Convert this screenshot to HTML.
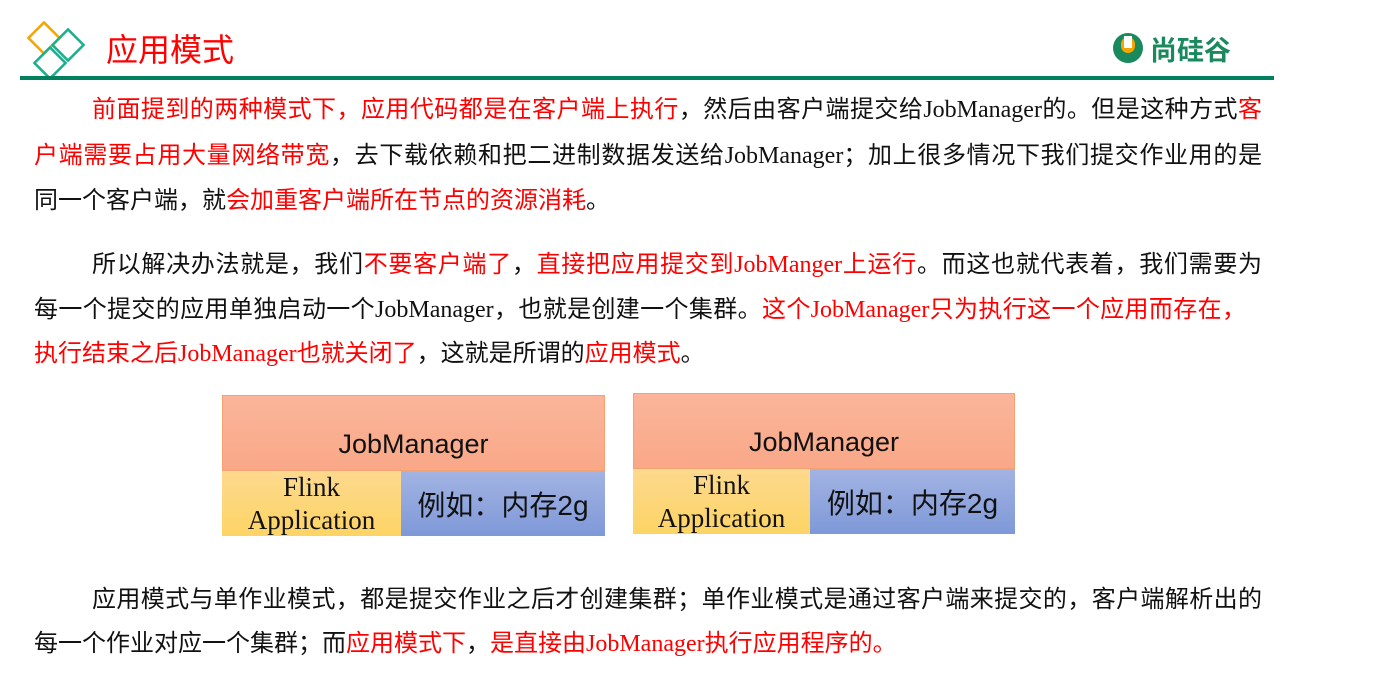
<!DOCTYPE html>
<html><head><meta charset="utf-8"><style>
body{margin:0;width:1394px;height:690px;background:#fff;position:relative;overflow:hidden;font-family:"Liberation Serif","Noto Sans CJK SC",sans-serif;}
.l{position:absolute;font-size:24px;line-height:30px;white-space:nowrap;color:#111;}
.j{text-align:justify;text-align-last:justify;}
.r{color:#f00;}
.box{position:absolute;}
.jm{position:absolute;left:0;top:0;right:0;background:linear-gradient(#fbb59a,#f9a888);border:1px solid #f7a070;box-sizing:border-box;font-family:"Liberation Sans","Noto Sans CJK SC",sans-serif;font-size:27px;display:flex;align-items:center;justify-content:center;padding-top:22px;color:#111;}
.fa{position:absolute;left:0;bottom:0;background:linear-gradient(#fdd98f,#fdd464);font-size:27px;line-height:33px;text-align:center;color:#111;display:flex;align-items:center;justify-content:center;}
.mem{position:absolute;right:0;bottom:0;background:linear-gradient(#a3b4e3,#7e98d8);font-family:"Liberation Sans","Noto Sans CJK SC",sans-serif;font-size:28px;display:flex;align-items:center;justify-content:center;color:#111;}
</style></head><body>
<svg width="100" height="80" style="position:absolute;left:20px;top:15px">
<rect x="13" y="12" width="22" height="22" transform="rotate(45 24 23)" fill="none" stroke="#f5a500" stroke-width="2.5"/>
<rect x="37" y="19" width="22" height="22" transform="rotate(45 48 30)" fill="none" stroke="#19b08e" stroke-width="2.5"/>
<rect x="19" y="37" width="22" height="22" transform="rotate(45 30 48)" fill="none" stroke="#19b08e" stroke-width="2.5"/>
</svg>
<div style="position:absolute;left:106px;top:28px;font-size:32px;color:#f00;font-family:'Noto Sans CJK SC',sans-serif;line-height:40px">应用模式</div>
<div style="position:absolute;left:20px;top:76px;width:1254px;height:4px;background:#00805e"></div>
<svg width="40" height="40" style="position:absolute;left:1112px;top:30px"><circle cx="16" cy="18" r="15" fill="#1a8a5e"/><rect x="9" y="7" width="14" height="16" rx="7" fill="#f5a500"/><rect x="12" y="6" width="8" height="12" fill="#fff"/></svg>
<div style="position:absolute;left:1150px;top:30px;font-size:27px;color:#1a8a5e;font-family:'Noto Sans CJK SC',sans-serif;line-height:38px;font-weight:bold">尚硅谷</div>

<div class="l j" style="left:92px;top:95px;width:1170px"><span class="r">前面提到的两种模式下，应用代码都是在客户端上执行</span>，然后由客户端提交给JobManager的。但是这种方式<span class="r">客</span></div>
<div class="l j" style="left:34px;top:141px;width:1228px"><span class="r">户端需要占用大量网络带宽</span>，去下载依赖和把二进制数据发送给JobManager；加上很多情况下我们提交作业用的是</div>
<div class="l" style="left:34px;top:186px">同一个客户端，就<span class="r">会加重客户端所在节点的资源消耗</span>。</div>

<div class="l j" style="left:92px;top:250px;width:1170px">所以解决办法就是，我们<span class="r">不要客户端了</span>，<span class="r">直接把应用提交到JobManger上运行</span>。而这也就代表着，我们需要为</div>
<div class="l j" style="left:34px;top:295px;width:1212px">每一个提交的应用单独启动一个JobManager，也就是创建一个集群。<span class="r">这个JobManager只为执行这一个应用而存在，</span></div>
<div class="l" style="left:34px;top:339px"><span class="r">执行结束之后JobManager也就关闭了</span>，这就是所谓的<span class="r">应用模式</span>。</div>

<div class="box" style="left:222px;top:395px;width:383px;height:141px">
<div class="jm" style="height:76px">JobManager</div>
<div class="fa" style="width:179px;height:65px">Flink<br>Application</div>
<div class="mem" style="width:204px;height:65px">例如：内存2g</div>
</div>
<div class="box" style="left:633px;top:393px;width:382px;height:141px">
<div class="jm" style="height:76px">JobManager</div>
<div class="fa" style="width:177px;height:65px">Flink<br>Application</div>
<div class="mem" style="width:205px;height:65px">例如：内存2g</div>
</div>

<div class="l j" style="left:92px;top:585px;width:1170px">应用模式与单作业模式，都是提交作业之后才创建集群；单作业模式是通过客户端来提交的，客户端解析出的</div>
<div class="l" style="left:34px;top:629px">每一个作业对应一个集群；而<span class="r">应用模式下</span>，<span class="r">是直接由JobManager执行应用程序的</span><span class="r">。</span></div>
</body></html>
